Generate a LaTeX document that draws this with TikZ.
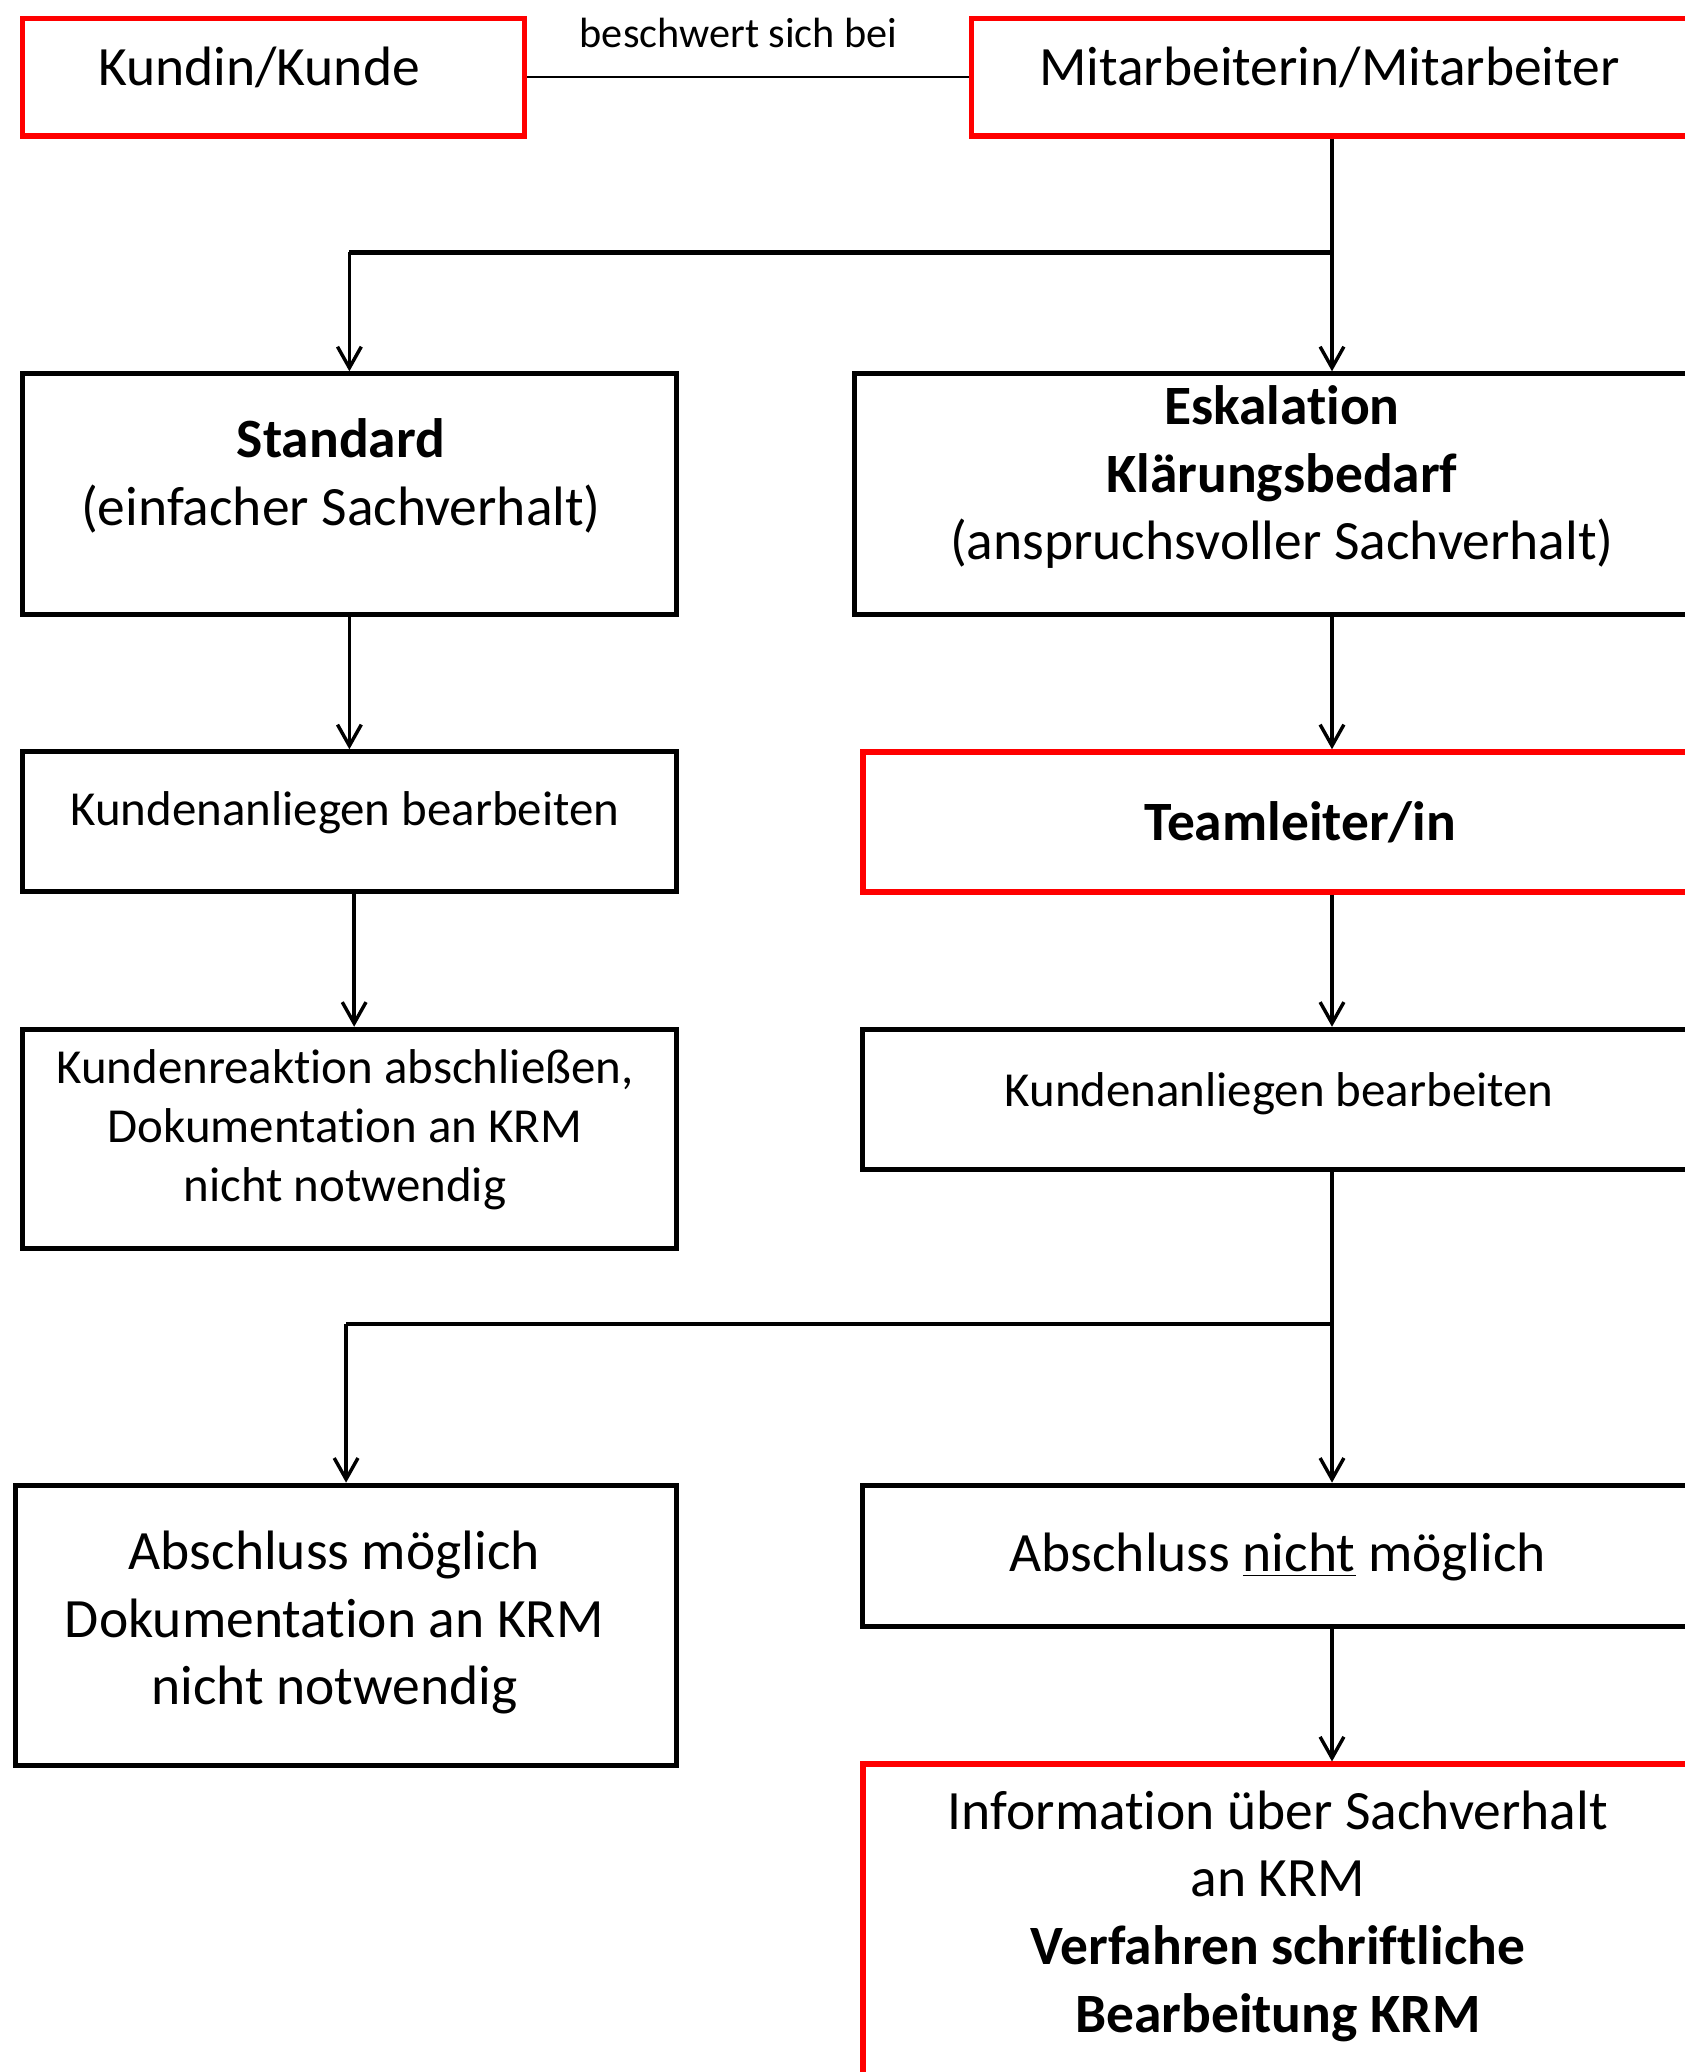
\documentclass[tikz,border=0pt]{standalone}
\usepackage{fontspec}
\setmainfont[Ligatures={NoCommon}]{Carlito}
\usetikzlibrary{arrows.meta}
\begin{document}
\begin{tikzpicture}[x=0.5pt,y=-0.5pt,
  boxb/.style={draw=black, line width=1.9pt, rectangle, inner sep=0pt, anchor=north west},
  boxr/.style={draw=red, line width=2pt, rectangle, inner sep=0pt, anchor=north west},
  big/.style={font=\fontsize{21pt}{25.6pt}\selectfont, align=center},
  mid/.style={font=\fontsize{18.5pt}{22.3pt}\selectfont, align=center},
  small/.style={font=\fontsize{16pt}{19.5pt}\selectfont},
  conn/.style={line width=1.3pt},
  branch/.style={line width=1.6pt},
  thinconn/.style={line width=0.9pt},
  arr/.style={line width=1.3pt, -{Straight Barb[length=8pt,width=9pt,line width=1.3pt]}}
]
\useasboundingbox (0,0) rectangle (1275,1568);
\clip (0,0) rectangle (1275,1568);

% boxes
\node[boxr, minimum width=190pt, minimum height=44.5pt] (kunde) at (15,12) {};
\node[big] (kundet) at (196,51) {Kundin/Kunde};
\node[boxr, minimum width=273pt, minimum height=44.5pt] (mit) at (733,12) {};
\node[big] (mitt) at (1006,51) {Mitarbeiterin/Mitarbeiter};

\node[boxb, minimum width=247.5pt, minimum height=91pt] (std) at (15,281) {};
\node[big] (stdt) at (258,360) {\textbf{Standard}\\(einfacher Sachverhalt)};

\node[boxb, minimum width=325pt, minimum height=91pt] (esk) at (645,281) {};
\node[big] (eskt) at (970,361) {\textbf{Eskalation}\\\textbf{Klärungsbedarf}\\(anspruchsvoller Sachverhalt)};

\node[boxb, minimum width=247.5pt, minimum height=53pt] (kl) at (15,567) {};
\node[mid] (klt) at (261,615) {Kundenanliegen bearbeiten};
\node[boxr, big, minimum width=331pt, minimum height=53pt] (tl) at (651,567) {\textbf{Teamleiter/in}};

\node[boxb, minimum width=247.5pt, minimum height=83pt] (kr) at (15,777) {};
\node[mid] (krt) at (261,855) {Kundenreaktion abschließen,\\Dokumentation an KRM\\nicht notwendig};
\node[boxb, minimum width=317pt, minimum height=53pt] (kar) at (651,777) {};
\node[mid] (kart) at (968,828) {Kundenanliegen bearbeiten};

\node[boxb, minimum width=250pt, minimum height=106pt] (am) at (10,1122) {};
\node[big] (amt) at (253,1228) {Abschluss möglich\\Dokumentation an KRM\\nicht notwendig};
\node[boxb, minimum width=316pt, minimum height=53.5pt] (asn) at (651,1122) {};
\node[big] (asnt) at (967,1178) {Abschluss \underline{nicht} möglich};

\node[boxr, minimum width=316pt, minimum height=150pt] (info) at (651,1333) {};
\node[big] (infot) at (967,1450) {Information über Sachverhalt\\an KRM\\\textbf{Verfahren schriftliche}\\\textbf{Bearbeitung KRM}};

% connectors
\draw[thinconn] (kunde.east) -- (mit.west);
\node[small] (lab) at (559,25) {beschwert sich bei};

\coordinate (j1) at (1008,191);
\draw[conn] (mit.south) -- (mit.south |- j1);
\draw[branch] (std.north |- j1) -- (j1);
\draw[arr] (std.north |- j1) -- (std.north);
\draw[arr] (j1) -- (j1 |- esk.north);

\draw[arr] (std.south) -- (kl.north);
\coordinate (c2) at (268,700);
\draw[arr] (kl.south -| c2) -- (kr.north -| c2);

\draw[arr] (esk.south -| j1) -- (tl.north -| j1);
\draw[arr] (tl.south -| j1) -- (kar.north -| j1);

\coordinate (j2) at (1008,1002);
\draw[conn] (kar.south -| j2) -- (j2);
\draw[arr] (j2) -- (asn.north -| j2);
\draw[branch] (am.north |- j2) -- (j2);
\draw[arr] (am.north |- j2) -- (am.north);

\draw[arr] (asn.south -| j2) -- (info.north -| j2);
\end{tikzpicture}
\end{document}
